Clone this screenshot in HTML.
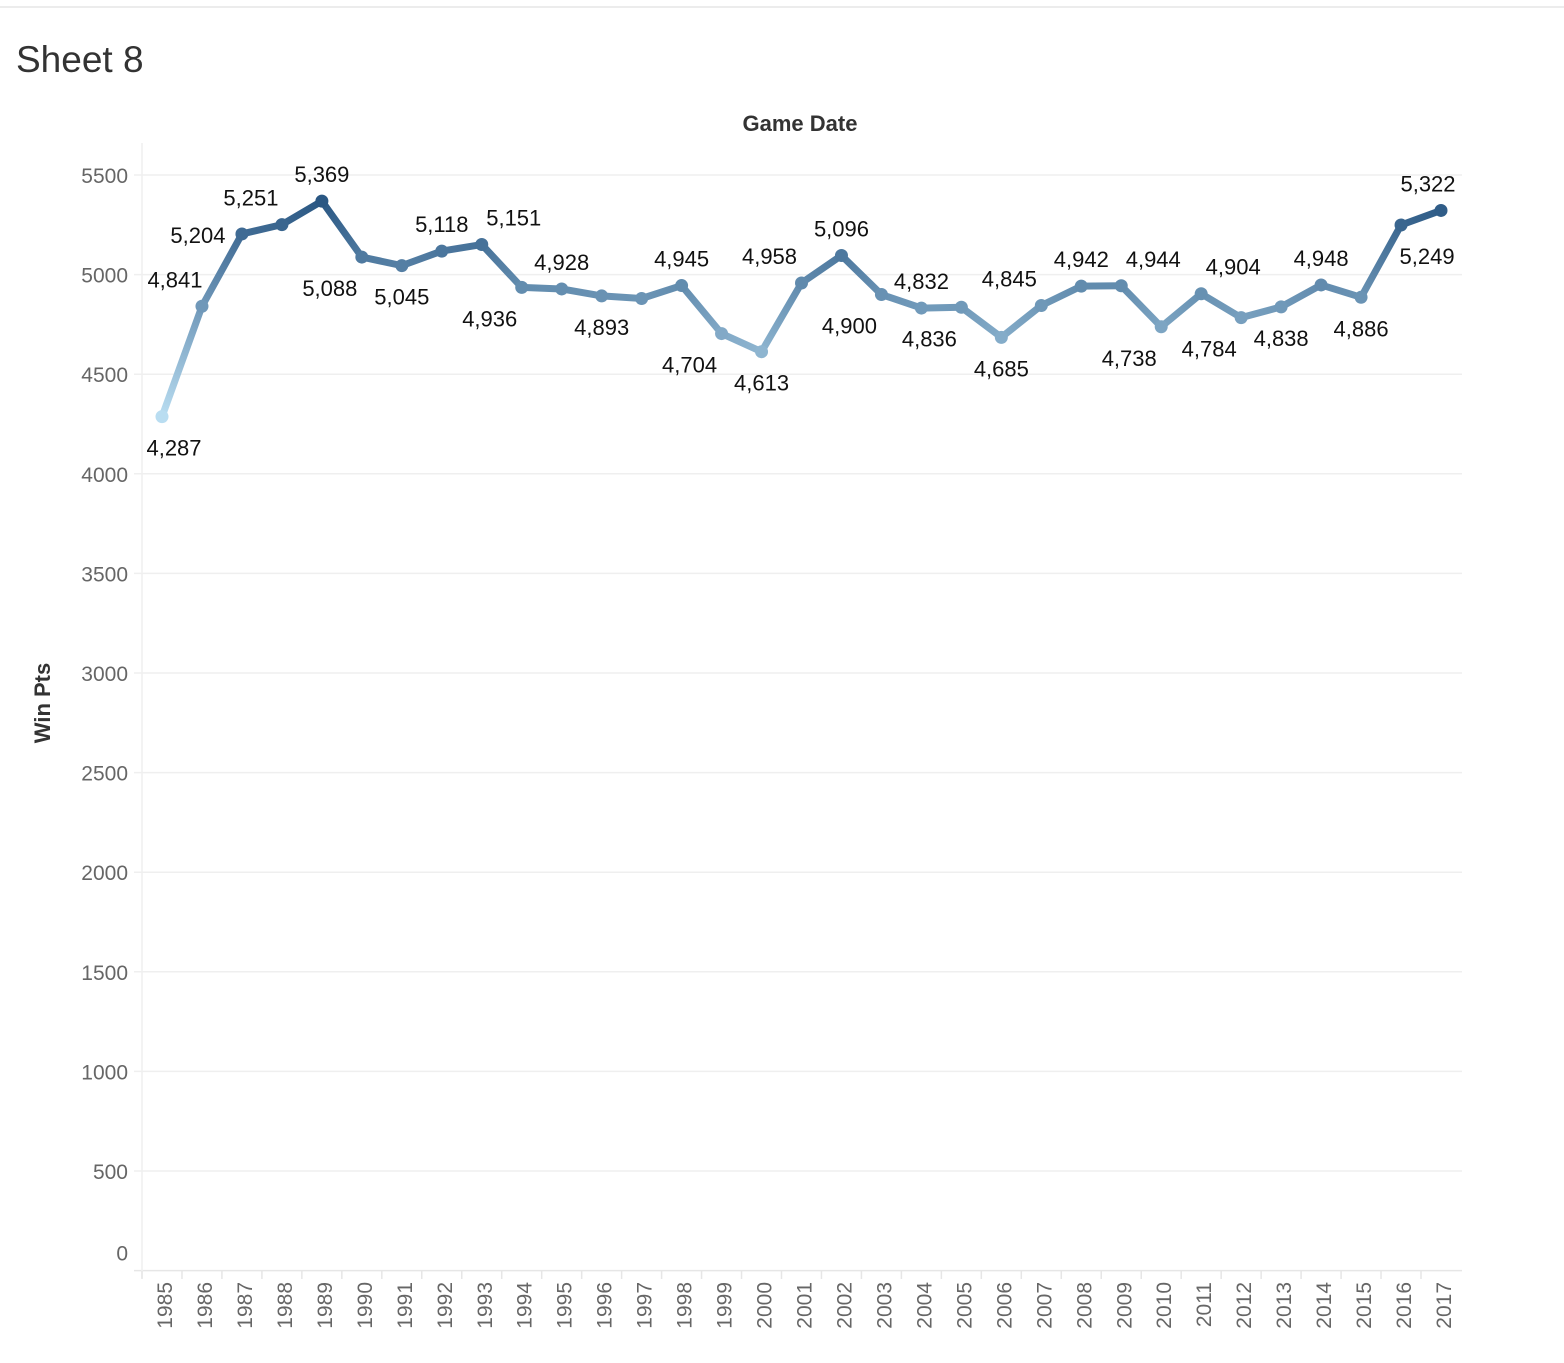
<!DOCTYPE html>
<html><head><meta charset="utf-8"><style>
body{margin:0;background:#fff;font-family:"Liberation Sans",sans-serif}
svg text{font-family:"Liberation Sans",sans-serif}
</style></head><body>
<svg width="1564" height="1358" xmlns="http://www.w3.org/2000/svg">
<line x1="0" y1="7" x2="1564" y2="7" stroke="#e6e6e6" stroke-width="1.5"/>
<text x="16" y="72" font-size="37" fill="#333">Sheet 8</text>
<text x="800" y="131" font-size="22" font-weight="bold" fill="#333" text-anchor="middle">Game Date</text>
<text transform="translate(50,703) rotate(-90)" font-size="22" font-weight="bold" fill="#333" text-anchor="middle">Win Pts</text>
<g id="grid"></g><g id="axes"></g><g id="lines"></g><g id="pts"></g><g id="labels"></g>
</svg>
<script>
const years=[1985,1986,1987,1988,1989,1990,1991,1992,1993,1994,1995,1996,1997,1998,1999,2000,2001,2002,2003,2004,2005,2006,2007,2008,2009,2010,2011,2012,2013,2014,2015,2016,2017];
const winPts=[4287,4841,5204,5251,5369,5088,5045,5118,5151,4936,4928,4893,4880,4945,4704,4613,4958,5096,4900,4832,4836,4685,4845,4942,4944,4738,4904,4784,4838,4948,4886,5249,5322];
const yTicks=[0,500,1000,1500,2000,2500,3000,3500,4000,4500,5000,5500];
// label placement: 'a' above, 'b' below, 'm' middle, 'n' none; horizontal shift
const labelPos=['b','a','m','a','a','b','b','a','a','b','a','b','n','a','b','b','a','a','b','a','b','b','a','a','a','b','a','b','b','a','b','b','a'];
const labelDx=[12,-27,-44,-31,0,-32,0,0,32,-32,0,0,0,0,-32,0,-32,0,-32,0,-32,0,-32,0,32,-32,32,-32,0,0,0,26,-13];
const NS='http://www.w3.org/2000/svg';
const X0=162,X1=1441,Y0=1270.6,YK=0.1992;
const x=i=>X0+(X1-X0)*i/(years.length-1);
const y=v=>Y0-v*YK;
const mn=Math.min(...winPts),mx=Math.max(...winPts);
function col(v){const t=(v-mn)/(mx-mn);const a=[185,221,241],b=[42,87,131];return 'rgb('+a.map((c,k)=>Math.round(c+(b[k]-c)*t)).join(',')+')';}
function mk(p,tag,at){const e=document.createElementNS(NS,tag);for(const k in at)e.setAttribute(k,at[k]);p.appendChild(e);return e;}
const G=document.getElementById('grid'),A=document.getElementById('axes'),L=document.getElementById('lines'),P=document.getElementById('pts'),T=document.getElementById('labels');
yTicks.forEach(v=>{
 const l=mk(G,'line',{x1:134,x2:1462,y1:y(v),y2:y(v),stroke:v===0?'#e6e6e6':'#efefef','stroke-width':1.5});
 
 
 const t=mk(A,'text',{x:128,y:(v===0?y(v)-10:y(v)+8),'font-size':21,fill:'#666','text-anchor':'end'});t.textContent=v;
 
 
});
mk(A,'line',{x1:142,x2:142,y1:143,y2:1278,stroke:'#efefef','stroke-width':1.5});
years.forEach((yr,i)=>{
 mk(A,'line',{x1:x(i)-20,x2:x(i)-20,y1:1271,y2:1279,stroke:'#e6e6e6','stroke-width':1.5});
 const t=mk(A,'text',{transform:'translate('+(x(i)+10)+',1282) rotate(-90)','font-size':21,fill:'#666','text-anchor':'end'});t.textContent=yr;
 
 
});
for(let i=0;i<years.length-1;i++){
 const g=mk(L,'linearGradient',{id:'g'+i,gradientUnits:'userSpaceOnUse',x1:x(i),y1:y(winPts[i]),x2:x(i+1),y2:y(winPts[i+1])});
 mk(g,'stop',{offset:0,'stop-color':col(winPts[i])});mk(g,'stop',{offset:1,'stop-color':col(winPts[i+1])});
 const s=mk(L,'line',{x1:x(i),y1:y(winPts[i]),x2:x(i+1),y2:y(winPts[i+1]),stroke:'url(#g'+i+')','stroke-width':7,'stroke-linecap':'round'});
 
 
}
winPts.forEach((v,i)=>{
 const c=mk(P,'circle',{cx:x(i),cy:y(v),r:6.5,fill:col(v)});
 
 
 const p=labelPos[i];if(p==='n')return;
 let lx=x(i)+labelDx[i],ly=y(v);
 if(p==='a'){ly-=19;}else if(p==='b'){ly+=39;}else{ly+=9;}
 const t=mk(T,'text',{x:lx,y:ly,'font-size':22,fill:'#111','text-anchor':'middle'});
 t.textContent=v.toLocaleString('en-US');
 
 
});
</script>
</body></html>
